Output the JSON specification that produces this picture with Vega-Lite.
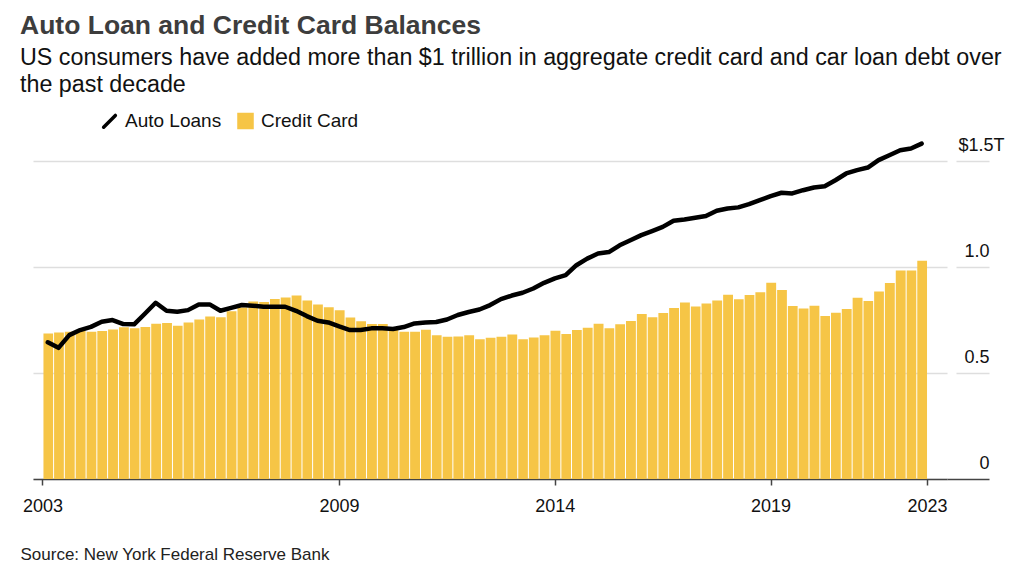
{
  "$schema": "https://vega.github.io/schema/vega-lite/v6.json",
  "width": 914,
  "height": 339,
  "autosize": {"type": "none"},
  "padding": {"left": 33, "top": 140, "right": 77, "bottom": 102},
  "background": "white",
  "config": {
    "font": "Liberation Sans",
    "view": {"stroke": null}
  },
  "title": {
    "text": "Auto Loan and Credit Card Balances",
    "subtitle": ["US consumers have added more than $1 trillion in aggregate credit card and car loan debt over", "the past decade"],
    "anchor": "start",
    "frame": "group",
    "dx": -13,
    "font": "Liberation Sans",
    "fontSize": 26.5,
    "fontWeight": "bold",
    "color": "#3d3d3d",
    "subtitleFont": "Liberation Sans",
    "subtitleFontSize": 23.3,
    "subtitleColor": "#111111",
    "subtitleLineHeight": 26.7,
    "subtitlePadding": 8,
    "offset": 15
  },
  "data": {
    "values": [
      {"d": "2003-01-01", "auto": 0.645, "card": 0.687},
      {"d": "2003-04-01", "auto": 0.619, "card": 0.692},
      {"d": "2003-07-01", "auto": 0.679, "card": 0.695},
      {"d": "2003-10-01", "auto": 0.703, "card": 0.700},
      {"d": "2004-01-01", "auto": 0.718, "card": 0.695},
      {"d": "2004-04-01", "auto": 0.742, "card": 0.698},
      {"d": "2004-07-01", "auto": 0.750, "card": 0.706},
      {"d": "2004-10-01", "auto": 0.731, "card": 0.716},
      {"d": "2005-01-01", "auto": 0.730, "card": 0.711},
      {"d": "2005-04-01", "auto": 0.780, "card": 0.717},
      {"d": "2005-07-01", "auto": 0.832, "card": 0.733},
      {"d": "2005-10-01", "auto": 0.794, "card": 0.736},
      {"d": "2006-01-01", "auto": 0.789, "card": 0.723},
      {"d": "2006-04-01", "auto": 0.797, "card": 0.739},
      {"d": "2006-07-01", "auto": 0.824, "card": 0.753},
      {"d": "2006-10-01", "auto": 0.824, "card": 0.767},
      {"d": "2007-01-01", "auto": 0.794, "card": 0.763},
      {"d": "2007-04-01", "auto": 0.808, "card": 0.792},
      {"d": "2007-07-01", "auto": 0.821, "card": 0.810},
      {"d": "2007-10-01", "auto": 0.818, "card": 0.838},
      {"d": "2008-01-01", "auto": 0.813, "card": 0.835},
      {"d": "2008-04-01", "auto": 0.813, "card": 0.849},
      {"d": "2008-07-01", "auto": 0.813, "card": 0.857},
      {"d": "2008-10-01", "auto": 0.794, "card": 0.866},
      {"d": "2009-01-01", "auto": 0.769, "card": 0.843},
      {"d": "2009-04-01", "auto": 0.747, "card": 0.824},
      {"d": "2009-07-01", "auto": 0.739, "card": 0.811},
      {"d": "2009-10-01", "auto": 0.720, "card": 0.796},
      {"d": "2010-01-01", "auto": 0.703, "card": 0.762},
      {"d": "2010-04-01", "auto": 0.703, "card": 0.744},
      {"d": "2010-07-01", "auto": 0.711, "card": 0.731},
      {"d": "2010-10-01", "auto": 0.711, "card": 0.731},
      {"d": "2011-01-01", "auto": 0.708, "card": 0.711},
      {"d": "2011-04-01", "auto": 0.717, "card": 0.695},
      {"d": "2011-07-01", "auto": 0.734, "card": 0.695},
      {"d": "2011-10-01", "auto": 0.739, "card": 0.704},
      {"d": "2012-01-01", "auto": 0.741, "card": 0.678},
      {"d": "2012-04-01", "auto": 0.753, "card": 0.671},
      {"d": "2012-07-01", "auto": 0.774, "card": 0.673},
      {"d": "2012-10-01", "auto": 0.788, "card": 0.678},
      {"d": "2013-01-01", "auto": 0.800, "card": 0.659},
      {"d": "2013-04-01", "auto": 0.821, "card": 0.667},
      {"d": "2013-07-01", "auto": 0.849, "card": 0.671},
      {"d": "2013-10-01", "auto": 0.866, "card": 0.682},
      {"d": "2014-01-01", "auto": 0.879, "card": 0.659},
      {"d": "2014-04-01", "auto": 0.899, "card": 0.668},
      {"d": "2014-07-01", "auto": 0.926, "card": 0.679},
      {"d": "2014-10-01", "auto": 0.947, "card": 0.700},
      {"d": "2015-01-01", "auto": 0.962, "card": 0.684},
      {"d": "2015-04-01", "auto": 1.009, "card": 0.703},
      {"d": "2015-07-01", "auto": 1.040, "card": 0.714},
      {"d": "2015-10-01", "auto": 1.064, "card": 0.733},
      {"d": "2016-01-01", "auto": 1.071, "card": 0.711},
      {"d": "2016-04-01", "auto": 1.103, "card": 0.730},
      {"d": "2016-07-01", "auto": 1.127, "card": 0.746},
      {"d": "2016-10-01", "auto": 1.151, "card": 0.779},
      {"d": "2017-01-01", "auto": 1.170, "card": 0.763},
      {"d": "2017-04-01", "auto": 1.190, "card": 0.783},
      {"d": "2017-07-01", "auto": 1.219, "card": 0.807},
      {"d": "2017-10-01", "auto": 1.225, "card": 0.833},
      {"d": "2018-01-01", "auto": 1.233, "card": 0.814},
      {"d": "2018-04-01", "auto": 1.241, "card": 0.828},
      {"d": "2018-07-01", "auto": 1.266, "card": 0.843},
      {"d": "2018-10-01", "auto": 1.277, "card": 0.870},
      {"d": "2019-01-01", "auto": 1.282, "card": 0.848},
      {"d": "2019-04-01", "auto": 1.297, "card": 0.868},
      {"d": "2019-07-01", "auto": 1.316, "card": 0.881},
      {"d": "2019-10-01", "auto": 1.335, "card": 0.926},
      {"d": "2020-01-01", "auto": 1.351, "card": 0.892},
      {"d": "2020-04-01", "auto": 1.348, "card": 0.816},
      {"d": "2020-07-01", "auto": 1.363, "card": 0.805},
      {"d": "2020-10-01", "auto": 1.376, "card": 0.818},
      {"d": "2021-01-01", "auto": 1.382, "card": 0.769},
      {"d": "2021-04-01", "auto": 1.410, "card": 0.785},
      {"d": "2021-07-01", "auto": 1.442, "card": 0.802},
      {"d": "2021-10-01", "auto": 1.458, "card": 0.855},
      {"d": "2022-01-01", "auto": 1.470, "card": 0.840},
      {"d": "2022-04-01", "auto": 1.505, "card": 0.885},
      {"d": "2022-07-01", "auto": 1.528, "card": 0.925},
      {"d": "2022-10-01", "auto": 1.552, "card": 0.984},
      {"d": "2023-01-01", "auto": 1.560, "card": 0.984},
      {"d": "2023-04-01", "auto": 1.583, "card": 1.030}
    ]
  },
  "encoding": {
    "x": {
      "field": "d",
      "type": "temporal",
      "timeUnit": "utcyearquarter",
      "scale": {
        "type": "utc",
        "nice": false,
        "domain": [
          {"year": 2002, "month": 10, "date": 13, "utc": true},
          {"year": 2023, "month": 12, "date": 17, "utc": true}
        ]
      },
      "axis": {
        "title": "Source: New York Federal Reserve Bank",
        "titleFont": "Liberation Sans",
        "titleFontSize": 17,
        "titleFontWeight": "normal",
        "titleColor": "#222222",
        "titleAnchor": "start",
        "titleAlign": "left",
        "titleBaseline": "alphabetic",
        "titleX": -13,
        "titleY": 80,
        "values": [
          {"year": 2003, "month": 1, "date": 1, "utc": true},
          {"year": 2009, "month": 11, "date": 15, "utc": true},
          {"year": 2014, "month": 11, "date": 15, "utc": true},
          {"year": 2019, "month": 11, "date": 15, "utc": true},
          {"year": 2023, "month": 7, "date": 1, "utc": true}
        ],
        "labelExpr": "utcFormat(datum.value, '%Y')",
        "labelFontSize": 18,
        "labelColor": "#111111",
        "labelBaseline": "alphabetic",
        "labelPadding": 26,
        "labelFlush": false,
        "labelOverlap": false,
        "grid": false,
        "domainColor": "#444444",
        "domainWidth": 1.5,
        "tickColor": "#444444",
        "tickWidth": 1.5,
        "tickSize": 6
      }
    }
  },
  "layer": [
    {
      "mark": {"type": "bar", "timeUnitBandSize": 0.74},
      "encoding": {
        "y": {
          "field": "card",
          "type": "quantitative",
          "scale": {"domain": [0, 1.6], "nice": false},
          "axis": {
            "orient": "right",
            "title": null,
            "values": [0, 0.5, 1, 1.5],
            "labelExpr": "datum.value == 0 ? '0' : datum.value == 1.5 ? '$1.5T' : format(datum.value, '.1f')",
            "labelFontSize": 18,
            "labelColor": "#111111",
            "labelAlign": "right",
            "labelBaseline": "alphabetic",
            "labelOffset": -11,
            "labelPadding": {"condition": {"test": "datum.value == 1.5", "value": 15}, "value": 0},
            "domain": false,
            "grid": true,
            "gridColor": "#dedede",
            "gridWidth": 1.5,
            "ticks": true,
            "tickSize": 42,
            "tickWidth": 1.5,
            "tickColor": {"condition": {"test": "datum.value == 0", "value": "#444444"}, "value": "#dedede"},
            "tickDash": {"condition": {"test": "datum.value == 0", "value": []}, "value": [0, 9, 33]}
          }
        },
        "color": {
          "datum": "Credit Card",
          "scale": {"domain": ["Auto Loans", "Credit Card"], "range": ["#000000", "#F6C546"]},
          "legend": {
            "title": null,
            "orient": "none",
            "direction": "horizontal",
            "legendX": 67,
            "legendY": -29,
            "labelFontSize": 19,
            "labelColor": "#111111",
            "labelFont": "Liberation Sans",
            "symbolSize": 170,
            "labelOffset": 6,
            "columnPadding": 9,
            "padding": 0,
            "encode": {
              "symbols": {
                "update": {
                  "shape": {"signal": "datum.value === 'Auto Loans' ? 'M-0.9,0.9L0.9,-0.9' : 'square'"},
                  "fill": {"signal": "datum.value === 'Auto Loans' ? 'transparent' : '#F6C546'"},
                  "stroke": {"signal": "datum.value === 'Auto Loans' ? '#000000' : 'transparent'"},
                  "strokeWidth": {"value": 3.5},
                  "strokeCap": {"value": "round"},
                  "opacity": {"value": 1}
                }
              }
            }
          }
        }
      }
    },
    {
      "mark": {"type": "line", "strokeWidth": 4.5, "strokeJoin": "round", "strokeCap": "round"},
      "encoding": {
        "x": {"field": "d", "type": "temporal", "timeUnit": "utcyearquarter", "bandPosition": 0.5},
        "y": {"field": "auto", "type": "quantitative"},
        "color": {"datum": "Auto Loans"}
      }
    }
  ]
}
